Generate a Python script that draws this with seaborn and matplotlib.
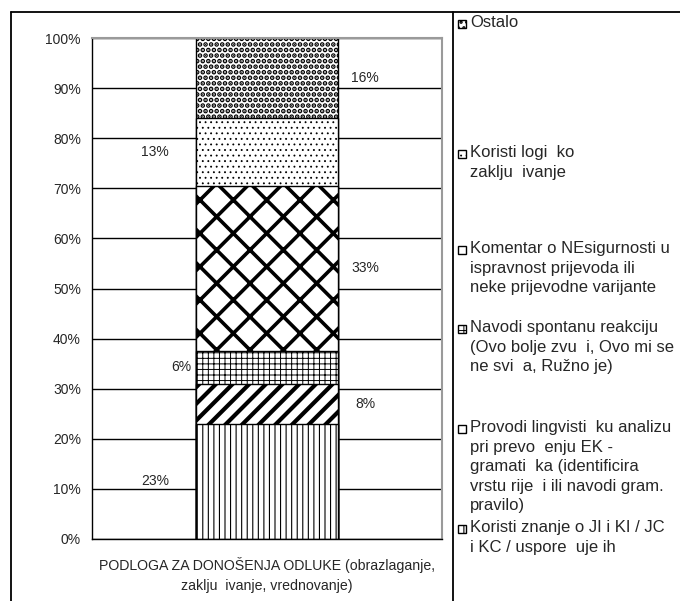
import matplotlib
matplotlib.use("Agg")
import matplotlib.pyplot as plt
import matplotlib.patches as mpatches
from matplotlib.lines import Line2D
import pandas as pd
import seaborn as sns

# --- data (bottom -> top of the stack) ---
category = "PODLOGA ZA DONOŠENJA ODLUKE (obrazlaganje,\nzaklju  ivanje, vrednovanje)"
series_names = [
    "Koristi znanje o JI i KI / JC\ni KC / uspore  uje ih",
    "Provodi lingvisti  ku analizu\npri prevo  enju EK -\ngramati  ka (identificira\nvrstu rije  i ili navodi gram.\npravilo)",
    "Navodi spontanu reakciju\n(Ovo bolje zvu  i, Ovo mi se\nne svi  a, Ružno je)",
    "Komentar o NEsigurnosti u\nispravnost prijevoda ili\nneke prijevodne varijante",
    "Koristi logi  ko\nzaklju  ivanje",
    "Ostalo",
]
values = [23.0, 8.0, 6.5, 33.0, 13.5, 16.0]
value_labels = ["23%", "8%", "6%", "33%", "13%", "16%"]
y_ticks = list(range(0, 101, 10))

# --- styling ---
hatches = ["|||", "//", "+++", "x", "...", "..."]
hatch_lw = [0.8, 3.0, 0.7, 2.6, 0.6, 2.4]
label_x = [-0.32, 0.28, -0.215, 0.28, -0.32, 0.28]
label_ha = ["center", "center", "right", "center", "center", "center"]
legend_y = [529, 429, 329, 250, 154, 24]   # first line centre, px from top

sns.set_style("white")
plt.rcParams["font.family"] = ["Liberation Sans", "DejaVu Sans"]
plt.rcParams["font.size"] = 10

W, H = 680, 601
fig = plt.figure(figsize=(W / 100, H / 100), dpi=100)
ax = fig.add_axes([92 / W, 62 / H, 350 / W, 501 / H])

cum = pd.Series(values).cumsum()
# draw cumulative totals from the top down so lower segments cover higher ones
for i in reversed(range(len(values))):
    df = pd.DataFrame({"cat": [category], "total": [cum[i]]})
    sns.barplot(data=df, x="cat", y="total", color="white", saturation=1,
                edgecolor="black", linewidth=1, width=0.406, hatch=hatches[i],
                errorbar=None, ax=ax, zorder=2)
    ax.patches[-1].set_hatch_linewidth(hatch_lw[i])

# value labels
bottoms = [0] + list(cum[:-1])
for i, lab in enumerate(value_labels):
    ax.text(label_x[i], bottoms[i] + values[i] / 2, lab, ha=label_ha[i],
            va="center", fontsize=10)

ax.set_ylim(0, 100)
ax.set_xlim(-0.5, 0.5)
ax.set_yticks(y_ticks)
ax.set_yticklabels([f"{t}%" for t in y_ticks])
ax.set_xticks([0])
ax.set_xticklabels([category], fontsize=10.2, linespacing=1.55)
ax.set_xticks([-0.5, 0.5], minor=True)
ax.tick_params(axis="x", which="major", length=0, pad=13)
ax.tick_params(axis="x", which="minor", length=4, width=1, direction="out", color="black")
ax.tick_params(axis="y", length=4, width=1, direction="out", color="black", pad=4, labelsize=10)
ax.set_xlabel("")
ax.set_ylabel("")
ax.grid(axis="y", color="black", lw=1)
ax.set_axisbelow(True)
for s in ["left", "bottom"]:
    ax.spines[s].set_color("black")
    ax.spines[s].set_linewidth(1)
for s in ["top", "right"]:
    ax.spines[s].set_color("#9a9a9a")
    ax.spines[s].set_linewidth(1.5)

# outer frame and legend divider
top = 1 - 12 / H
fig.add_artist(Line2D([11 / W, 11 / W], [0, top], transform=fig.transFigure, color="black", lw=1.3))
fig.add_artist(Line2D([11 / W, 1], [top, top], transform=fig.transFigure, color="black", lw=1.3))
fig.add_artist(Line2D([453 / W, 453 / W], [0, top], transform=fig.transFigure, color="black", lw=1.3))

# legend
for i, name in enumerate(series_names):
    yc = legend_y[i]
    box = mpatches.Rectangle((458 / W, 1 - (yc + 4) / H), 8 / W, 8 / H,
                             transform=fig.transFigure, facecolor="white",
                             edgecolor="black", lw=1, hatch=hatches[i])
    box.set_hatch_linewidth(min(hatch_lw[i], 1.5))
    fig.add_artist(box)
    fig.text(470 / W, 1 - (yc - 9) / H, name, ha="left", va="top",
             fontsize=12, linespacing=1.38)

fig.savefig("out.png", dpi=100)
